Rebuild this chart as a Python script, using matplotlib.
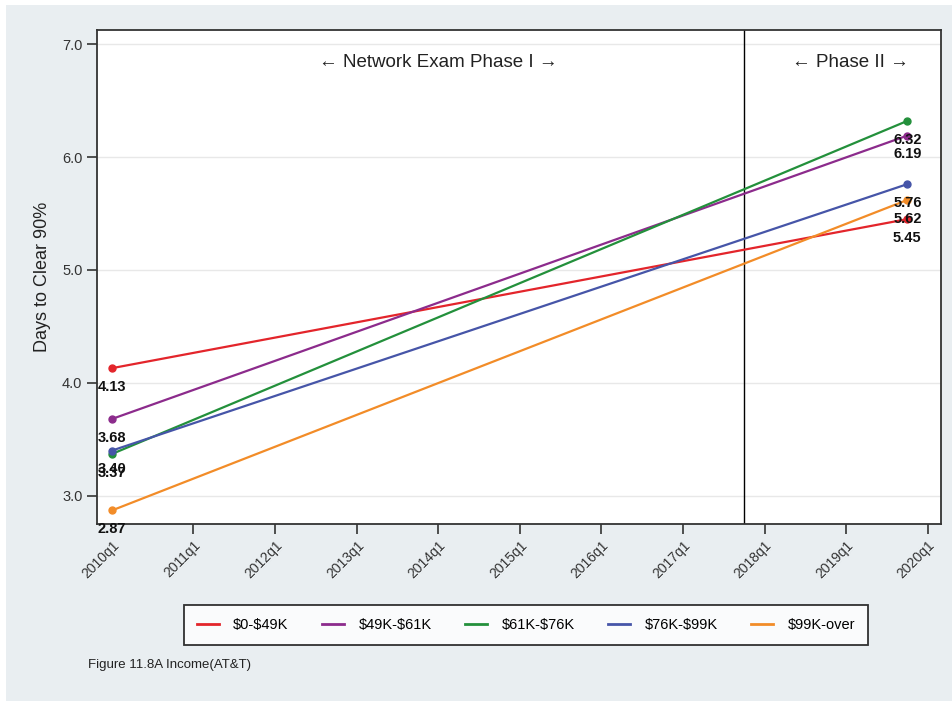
import matplotlib
matplotlib.use("Agg")
import matplotlib.pyplot as plt
import matplotlib.patches as patches

plt.rcParams['font.family'] = ['Liberation Sans', 'DejaVu Sans']

# data
periods = ['2010q1', '2019q4']
groups = [r'\$0-\$49K', r'\$49K-\$61K', r'\$61K-\$76K', r'\$76K-\$99K',
          r'\$99K-over']
vals_0_49 = [4.13, 5.45]
vals_49_61 = [3.68, 6.19]
vals_61_76 = [3.37, 6.32]
vals_76_99 = [3.40, 5.76]
vals_99_over = [2.87, 5.62]
series = [vals_0_49, vals_49_61, vals_61_76, vals_76_99, vals_99_over]
colors = ['#e3252b', '#8c2b8c', '#23903b', '#4655a8', '#f28c28']
phase_break = '2017q4'
tick_labels = ['%dq1' % y for y in range(2010, 2021)]


def q_index(s):
    # quarters counted from 2010q1
    y, q = s.split('q')
    return (int(y) - 2010) * 4 + int(q) - 1


xs = [q_index(p) for p in periods]

fig = plt.figure(figsize=(9.53, 7.01), dpi=100, facecolor='white')
# grey panel like the stata graph region
fig.patches.append(patches.Rectangle((6/953, 0), 1, 1 - 5/701,
                                     transform=fig.transFigure,
                                     facecolor='#e9eef1', edgecolor='none',
                                     zorder=-10))

ax = fig.add_axes([97/953, 1 - 524/701, 844/953, 494/701])
ax.set_facecolor('white')
ax.set_xlim(-0.73, 40.65)
ax.set_ylim(2.75, 7.125)

for v in [3, 4, 5, 6, 7]:
    ax.axhline(v, color='#e8e8e8', lw=1, zorder=0)

lines = []
for vals, c, g in zip(series, colors, groups):
    ln, = ax.plot(xs, vals, color=c, lw=1.6, marker='o', ms=5, label=g,
                  zorder=3)
    lines.append(ln)
    for x, v in zip(xs, vals):
        ax.annotate('%.2f' % v, (x, v), xytext=(0, -13.5),
                    textcoords='offset points', ha='center', va='center',
                    fontsize=10.5, fontweight='bold', color='#111111',
                    zorder=10, annotation_clip=False)

ax.axvline(q_index(phase_break), color='black', lw=1, zorder=2)

ax.text(16, 6.84, '\u2190 Network Exam Phase I \u2192', ha='center',
        va='center', fontsize=13.5, color='#222222')
ax.text(36.2, 6.84, '\u2190 Phase II \u2192', ha='center', va='center',
        fontsize=13.5, color='#222222')

ax.set_xticks([q_index(t) for t in tick_labels])
ax.set_xticklabels(tick_labels, rotation=45, ha='right',
                   rotation_mode='anchor', fontsize=10, color='#333333')
ax.set_yticks([3, 4, 5, 6, 7])
ax.set_yticklabels(['3.0', '4.0', '5.0', '6.0', '7.0'], fontsize=10.5,
                   color='#333333')
ax.tick_params(axis='both', direction='out', length=7, width=1.2,
               color='#333333')
# first tick mark sits under the 2.87 label
ax.xaxis.get_major_ticks()[0].tick1line.set_visible(False)
for sp in ax.spines.values():
    sp.set_color('#333333')
    sp.set_linewidth(1.3)

ax.set_ylabel('Days to Clear 90%', fontsize=13, color='#222222', labelpad=8)

leg = fig.legend(handles=lines, loc='center', ncol=5,
                 bbox_to_anchor=(526/953, 1 - 625/701), frameon=True,
                 fontsize=10.5, handlelength=1.5, columnspacing=2.3,
                 borderpad=0.9, handletextpad=1.0, fancybox=False)
leg.get_frame().set_edgecolor('black')
leg.get_frame().set_linewidth(1.3)
for h in leg.get_lines():
    h.set_marker('')
    h.set_linewidth(2)

fig.text(88/953, 1 - 665/701, 'Figure 11.8A Income(AT&T)', fontsize=9.5,
         ha='left', va='center', color='#222222')

fig.savefig('out.png', dpi=100, facecolor=fig.get_facecolor())
